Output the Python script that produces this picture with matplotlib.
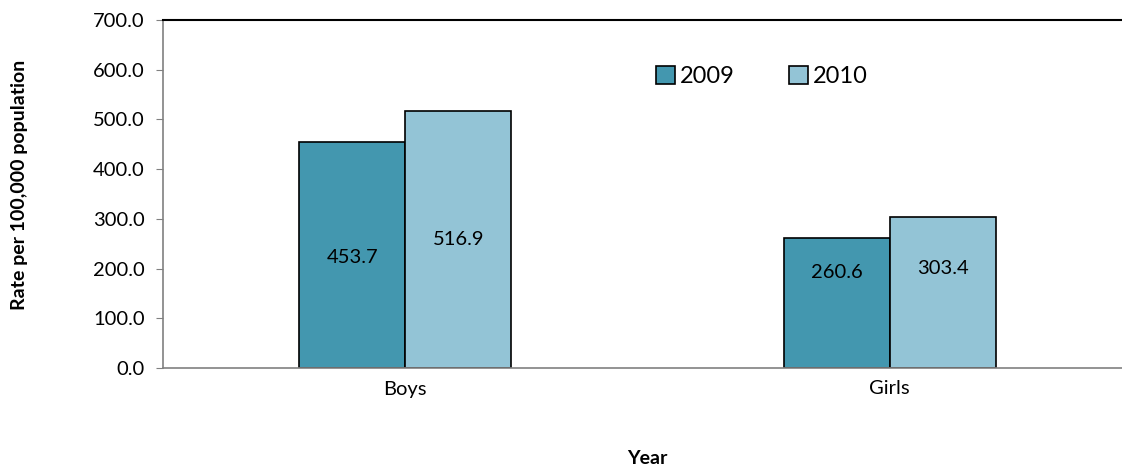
import matplotlib.pyplot as plt
import numpy as np

# Rate per 100,000 population by sex
groups = ['Boys', 'Girls']
years = ['2009', '2010']
rate_2009 = [453.7, 260.6]
rate_2010 = [516.9, 303.4]
colors = ['#4397AF', '#93C4D6']

# height of each value label as a share of its bar
label_frac = [[0.49, 0.74], [0.50, 0.66]]

plt.rcParams['font.family'] = ['Lato', 'DejaVu Sans']

fig = plt.figure(figsize=(11.22, 4.72), dpi=100)
ax = fig.add_axes([163 / 1122, 1 - 368 / 472, (1132 - 163) / 1122, (368 - 20) / 472])

x = np.arange(len(groups))
w = 0.219
series = [rate_2009, rate_2010]
for i, (yr, vals) in enumerate(zip(years, series)):
    pos = x + (i - 0.5) * w
    ax.bar(pos, vals, width=w, color=colors[i], edgecolor='black', linewidth=1.2, label=yr)
    for p, v, f in zip(pos, vals, label_frac[i]):
        ax.text(p, v * f, f'{v:.1f}', ha='center', va='center', fontsize=14.5)

ax.set_xlim(-0.5, 1.5)
ax.set_ylim(0, 700)
ax.set_yticks(np.arange(0, 701, 100))
ax.set_yticklabels([f'{t:.1f}' for t in np.arange(0, 701, 100)], fontsize=14.5)
ax.set_xticks(x)
ax.set_xticklabels(groups, fontsize=14.5)
ax.tick_params(axis='x', length=0, pad=9)
ax.tick_params(axis='y', length=5, color='#808080', pad=8)

ax.spines['right'].set_visible(False)
ax.spines['top'].set_color('black')
ax.spines['top'].set_linewidth(1.5)
ax.spines['left'].set_color('#808080')
ax.spines['bottom'].set_color('#808080')
ax.spines['left'].set_linewidth(1.2)
ax.spines['bottom'].set_linewidth(1.2)

fig.text(20 / 1122, 1 - 185 / 472, 'Rate per 100,000 population', rotation=90,
         ha='center', va='center', fontsize=14, fontweight='bold')
ax.set_xlabel('Year', fontsize=14, fontweight='bold', labelpad=38)

ax.legend(loc='upper left', bbox_to_anchor=(0.487, 0.93), ncol=2, frameon=False,
          fontsize=17, handlelength=0.8, handleheight=0.8, handletextpad=0.2,
          columnspacing=2.3)

fig.savefig('out.png', dpi=100)
